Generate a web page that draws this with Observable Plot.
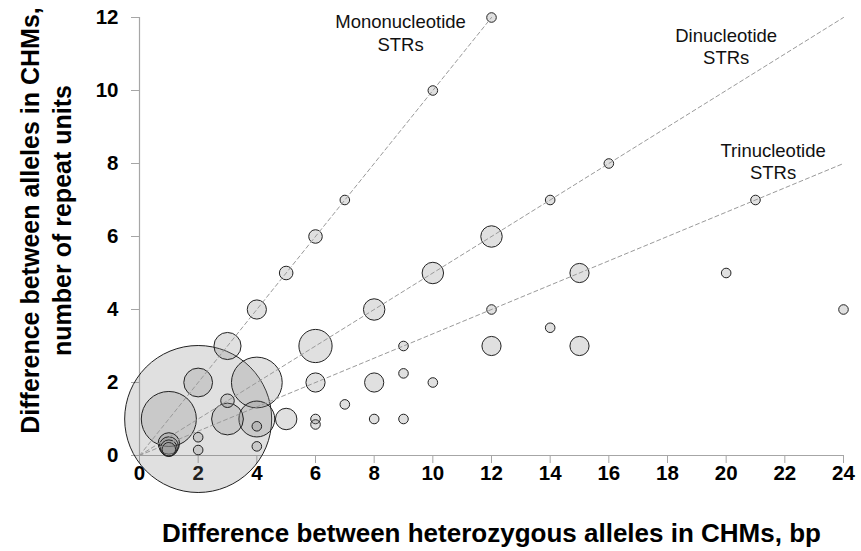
<!DOCTYPE html>
<html>
<head>
<meta charset="utf-8">
<script src="https://cdn.jsdelivr.net/npm/d3@7"></script>
<script src="https://cdn.jsdelivr.net/npm/@observablehq/plot@0.6"></script>
<style>
  html, body { margin: 0; padding: 0; background: #fff; }
  #chart svg { display: block; }
</style>
</head>
<body>
<div id="chart"></div>
<script>
// Bubble data: difference in bp (x), difference in repeat units (y), count (bubble size)
const bubbleX = [2, 1, 4, 4, 6, 3, 2, 3, 5, 8, 10, 12, 4, 12, 15, 15, 6, 8, 5, 6, 3,
  1, 1, 1, 1, 7, 10, 12, 14, 16, 21, 20, 24, 12, 14, 9, 9, 10, 7, 6, 6, 8, 9, 4, 4, 2, 2];
const bubbleY = [1, 1, 2, 1, 3, 1, 2, 3, 1, 4, 5, 6, 4, 3, 5, 3, 2, 2, 5, 6, 1.5,
  0.33, 0.25, 0.2, 0.17, 7, 10, 12, 7, 8, 7, 5, 4, 4, 3.5, 3, 2.25, 2, 1.4, 1, 0.85, 1, 1, 0.8, 0.25, 0.5, 0.15];
const bubbleN = [235, 33, 28, 14, 12, 11, 9, 8, 5, 5, 5, 5, 4, 4, 4, 4, 4, 4, 2, 2, 2,
  5, 4, 3, 2, 1, 1, 1, 1, 1, 1, 1, 1, 1, 1, 1, 1, 1, 1, 1, 1, 1, 1, 1, 1, 1, 1];

// Reference lines (STR motif length 1, 2, 3)
const lineSeries = ["Mononucleotide", "Mononucleotide", "Dinucleotide", "Dinucleotide", "Trinucleotide", "Trinucleotide"];
const lineX = [0, 12, 0, 24, 0, 24];
const lineY = [0, 12, 0, 12, 0, 8];

// Line labels
const labelText = ["Mononucleotide\nSTRs", "Dinucleotide\nSTRs", "Trinucleotide\nSTRs"];
const labelX = [8.9, 20.0, 21.6];
const labelY = [11.59, 11.22, 8.08];

const xTicks = [0, 2, 4, 6, 8, 10, 12, 14, 16, 18, 20, 22, 24];
const yTicks = [0, 2, 4, 6, 8, 10, 12];

const xTitle = "Difference between heterozygous alleles in CHMs, bp";
const yTitle = "Difference between alleles in CHMs,\nnumber of repeat units";

const bubbles = bubbleX.map((x, i) => ({x, y: bubbleY[i], n: bubbleN[i]}));
const lines = lineX.map((x, i) => ({series: lineSeries[i], x, y: lineY[i]}));
const labels = labelText.map((t, i) => ({t, x: labelX[i], y: labelY[i]}));

const chart = Plot.plot({
  width: 861,
  height: 551,
  marginLeft: 139,
  marginRight: 18,
  marginTop: 17,
  marginBottom: 96,
  style: {fontFamily: "'Liberation Sans', Arial, sans-serif", background: "#fff", color: "#000"},
  x: {domain: [0, 24]},
  y: {domain: [0, 12]},
  r: {type: "sqrt", domain: [0, 235], range: [0, 73.5]},
  marks: [
    Plot.axisX({ticks: xTicks, tickSize: 8, tickPadding: 2, stroke: "#a6a6a6", fontSize: 20.5, fontWeight: "bold", label: null, fill: "#000"}),
    Plot.axisY({ticks: yTicks, tickSize: 8, tickPadding: 13, stroke: "#a6a6a6", fontSize: 20.5, fontWeight: "bold", label: null, fill: "#000"}),
    Plot.ruleY([0], {stroke: "#a6a6a6", strokeWidth: 1.2}),
    Plot.ruleX([0], {stroke: "#a6a6a6", strokeWidth: 1.2}),
    Plot.dot(bubbles, {x: "x", y: "y", r: "n", fill: "#858585", fillOpacity: 0.25, stroke: "#222", strokeWidth: 1}),
    Plot.line(lines, {x: "x", y: "y", z: "series", stroke: "#9a9a9a", strokeWidth: 1, strokeDasharray: "4,3"}),
    Plot.text(labels, {x: "x", y: "y", text: "t", fontSize: 18.5, lineHeight: 1.2, fill: "#111"}),
    Plot.text([xTitle], {frameAnchor: "bottom", dy: 86, fontSize: 26, fontWeight: "bold", fill: "#000"}),
    Plot.text([yTitle], {frameAnchor: "left", textAnchor: "middle", rotate: -90, dx: -95, dy: -16, fontSize: 25, fontWeight: "bold", lineHeight: 1.28, fill: "#000"})
  ]
});

document.getElementById("chart").appendChild(chart);
</script>
</body>
</html>
